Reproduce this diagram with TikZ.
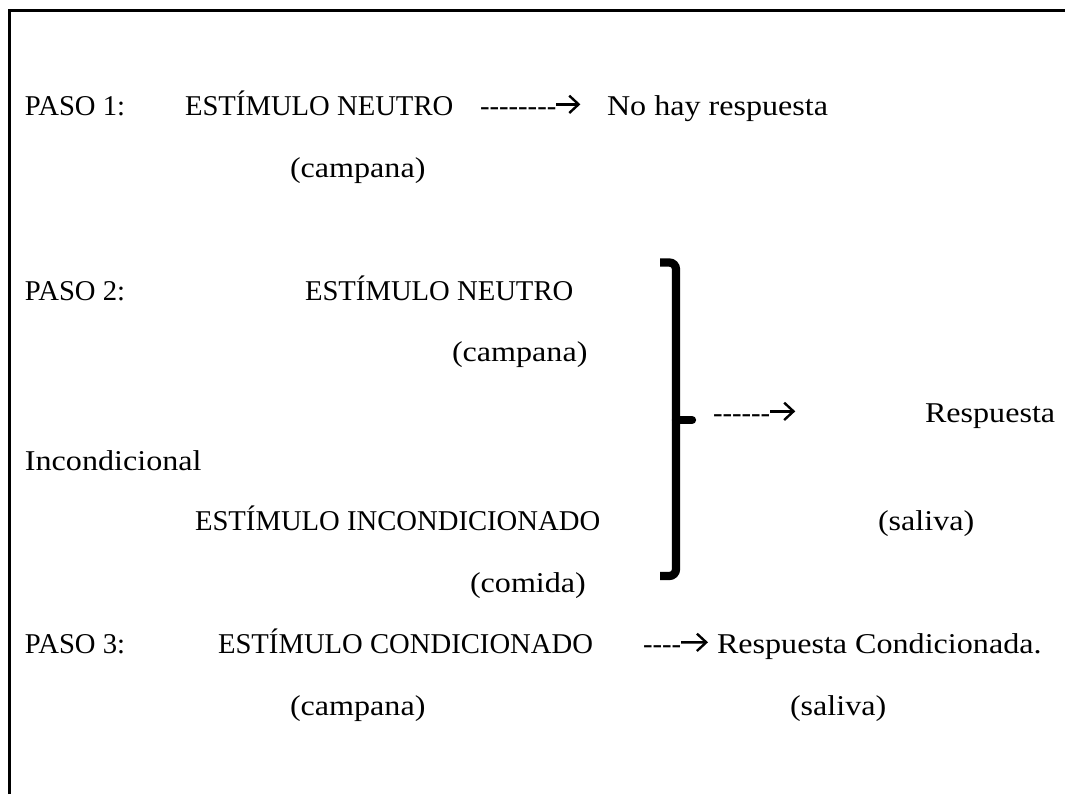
\documentclass[tikz,border=0pt]{standalone}
\usepackage{fontspec}
\usetikzlibrary{arrows.meta}
\setmainfont{Liberation Serif}
\newfontfamily\widefont{Liberation Serif}[FakeStretch=1.12]
\newcommand\hy{\mbox{-}}
\newcommand\hys[1]{\foreach \i in {1,...,#1}{\hy}}
\begin{document}
\begin{tikzpicture}[x=0.75pt,y=-0.75pt,
  txt/.style={anchor=base west,inner sep=0pt,outer sep=0pt,font=\fontsize{21.5}{26}\selectfont},
  wtxt/.style={txt,font=\fontsize{21.5}{26}\selectfont\widefont},
  frame/.style={line width=1.9pt},
  brk/.style={line width=6.2pt},
  txtarrow/.style={line width=1.8pt,-{Straight Barb[length=7pt,width=13pt]}}]
\useasboundingbox (0,0) rectangle (1065,794);
\draw[frame] (9.5,794) -- (9.5,10.3) -- (1065,10.3);
% step 1
\node[txt]  (p1) at (25,115) {PASO 1:};
\node[txt]  (e1) at (185,115) {ESTÍMULO NEUTRO};
\node[txt]  (a1) at (480,115) {\hys{8}};
\node[wtxt] (r1) at (607,115) {No hay respuesta};
\node[wtxt] (c1) at (290,177) {(campana)};
\draw[txtarrow] ([yshift=8pt]a1.base east) -- ++(24,0);
% step 2
\node[txt]  (p2) at (25,300) {PASO 2:};
\node[txt]  (e2) at (305,300) {ESTÍMULO NEUTRO};
\node[wtxt] (c2) at (452,361) {(campana)};
\node[txt]  (a2) at (713,422) {\hys{6}};
\draw[txtarrow] ([yshift=8pt]a2.base east) -- ++(25,0);
\node[wtxt] (r2) at (925,422) {Respuesta};
\node[wtxt] (i2) at (25,470) {Incondicional};
\node[txt]  (e3) at (195,530) {ESTÍMULO INCONDICIONADO};
\node[wtxt] (s2) at (878,530) {(saliva)};
\node[wtxt] (c3) at (470,592) {(comida)};
% step 3
\node[txt]  (p3) at (25,653) {PASO 3:};
\node[txt]  (e4) at (218,653) {ESTÍMULO CONDICIONADO};
\node[txt]  (a3) at (643,653) {\hys{4}};
\draw[txtarrow] ([yshift=8pt]a3.base east) -- (708,653-10.7);
\node[wtxt] (r3) at (717,653) {Respuesta Condicionada.};
\node[wtxt] (c4) at (290,715) {(campana)};
\node[wtxt] (s3) at (790,715) {(saliva)};
% bracket
\draw[brk, rounded corners=5pt] (660,262.5) -- (676,262.5) -- (676,576) -- (660,576);
\draw[brk, line cap=round] (676,420) -- (692,420);
\end{tikzpicture}
\end{document}
